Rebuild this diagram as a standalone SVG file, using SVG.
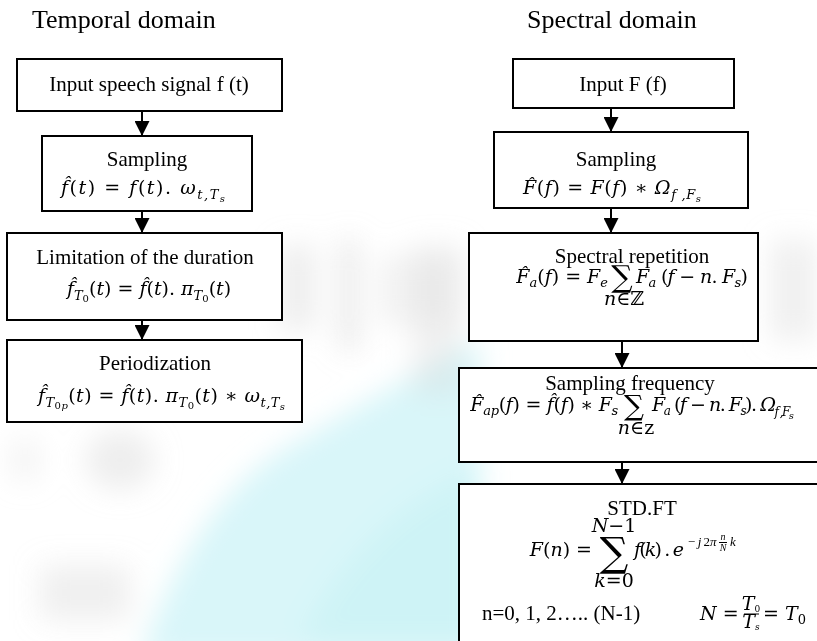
<svg xmlns="http://www.w3.org/2000/svg" width="817" height="641" viewBox="0 0 817 641">
<defs>
<style>
.t{font-family:"Liberation Serif","Times New Roman",serif;font-size:21px;fill:#000}
.h{font-size:26px}
.m{font-family:"DejaVu Serif",serif;font-style:italic;font-size:19px;fill:#000}
.li{font-family:"Liberation Serif",serif;font-style:italic;fill:#000}
.u{font-style:normal}
.s{font-size:13px}
.ss{font-size:10px}
.sum{font-family:"DejaVu Serif",serif;font-style:normal;fill:#000}
.box{fill:#fff;stroke:#000;stroke-width:2}
.c{stroke:#000;stroke-width:2;fill:none;marker-end:url(#ah)}
.fl{stroke:#000;stroke-width:1}
</style>
<marker id="ah" markerUnits="userSpaceOnUse" markerWidth="15" markerHeight="15" refX="15" refY="7.5" orient="auto" viewBox="0 0 15 15"><path d="M0,0 L15,7.5 L0,15 Z" fill="#000"/></marker>
<filter id="blur" x="-30%" y="-30%" width="160%" height="160%"><feGaussianBlur stdDeviation="14"/></filter>
</defs>
<rect width="817" height="641" fill="#fff"/>
<g id="watermark" filter="url(#blur)">
<path d="M140,660 C170,570 220,480 300,440 C360,405 420,370 480,340 L480,660 Z" fill="#d2f5f8" opacity="0.85"/>
<path d="M300,641 C340,560 400,500 480,470 L480,641 Z" fill="#c6f1f5" opacity="0.6"/>
<rect x="280" y="245" width="35" height="85" fill="#d6d6d6" opacity="0.45"/>
<rect x="340" y="240" width="18" height="110" fill="#cfcfcf" opacity="0.5"/>
<rect x="380" y="255" width="80" height="70" fill="#dedede" opacity="0.4"/>
<ellipse cx="120" cy="460" rx="35" ry="30" fill="#d4d4d4" opacity="0.4"/>
<rect x="40" y="565" width="90" height="55" fill="#d0d0d0" opacity="0.35"/>
<rect x="12" y="440" width="26" height="40" fill="#e0e0e0" opacity="0.4"/>
<rect x="770" y="240" width="47" height="100" fill="#dadada" opacity="0.4"/>
<rect x="412" y="245" width="50" height="150" fill="#d8d8d8" opacity="0.35"/>
</g>

<text class="t h" x="32" y="28">Temporal domain</text>
<text class="t h" x="527" y="28">Spectral domain</text>

<g id="connectors">
<line class="c" x1="142" y1="111" x2="142" y2="136"/>
<line class="c" x1="142" y1="211" x2="142" y2="233"/>
<line class="c" x1="142" y1="320" x2="142" y2="340"/>
<line class="c" x1="611" y1="108" x2="611" y2="132"/>
<line class="c" x1="611" y1="208" x2="611" y2="233"/>
<line class="c" x1="622" y1="341" x2="622" y2="368"/>
<line class="c" x1="622" y1="462" x2="622" y2="484"/>
</g>

<g id="input-signal">
<rect class="box" x="17" y="59" width="265" height="52"/>
<text class="t" x="149" y="91" text-anchor="middle">Input speech signal f (t)</text>
</g>

<g id="sampling-t">
<rect class="box" x="42" y="136" width="210" height="75"/>
<text class="t" x="147" y="166" text-anchor="middle">Sampling</text>
<text class="m" x="61" y="194" font-size="20" textLength="164" lengthAdjust="spacing">f̂<tspan class="u">(</tspan>t<tspan class="u">) = </tspan>f<tspan class="u">(</tspan>t<tspan class="u">). </tspan>ω<tspan class="s" dy="5">t,T</tspan><tspan class="ss" dy="3">s</tspan></text>
</g>

<g id="limitation">
<rect class="box" x="7" y="233" width="275" height="87"/>
<text class="t" x="145" y="264" text-anchor="middle">Limitation of the duration</text>
<text class="m" x="149" y="295" text-anchor="middle">f̂<tspan class="s" dy="5">T</tspan><tspan class="ss u" dy="2">0</tspan><tspan class="u" dy="-7">(</tspan>t<tspan class="u">) = </tspan>f̂<tspan class="u">(</tspan>t<tspan class="u">). </tspan>π<tspan class="s" dy="5">T</tspan><tspan class="ss u" dy="2">0</tspan><tspan class="u" dy="-7">(</tspan>t<tspan class="u">)</tspan></text>
</g>

<g id="periodization">
<rect class="box" x="7" y="340" width="295" height="82"/>
<text class="t" x="155" y="370" text-anchor="middle">Periodization</text>
<text class="m" x="38" y="402" textLength="247" lengthAdjust="spacing">f̂<tspan class="s" dy="5">T</tspan><tspan class="ss" dy="2"><tspan class="u">0</tspan>p</tspan><tspan class="u" dy="-7">(</tspan>t<tspan class="u">) = </tspan>f̂<tspan class="u">(</tspan>t<tspan class="u">). </tspan>π<tspan class="s" dy="5">T</tspan><tspan class="ss u" dy="2">0</tspan><tspan class="u" dy="-7">(</tspan>t<tspan class="u">) ∗ </tspan>ω<tspan class="s" dy="5">t,T</tspan><tspan class="ss" dy="3">s</tspan></text>
</g>

<g id="input-F">
<rect class="box" x="513" y="59" width="221" height="49"/>
<text class="t" x="623" y="91" text-anchor="middle">Input F (f)</text>
</g>

<g id="sampling-f">
<rect class="box" x="494" y="132" width="254" height="76"/>
<text class="t" x="616" y="166" text-anchor="middle">Sampling</text>
<text class="m" x="523" y="194" textLength="178" lengthAdjust="spacing">F̂<tspan class="u">(</tspan>f<tspan class="u">) = </tspan>F<tspan class="u">(</tspan>f<tspan class="u">) ∗ </tspan>Ω<tspan class="s" dy="5">f ,F</tspan><tspan class="ss" dy="3">s</tspan></text>
</g>

<g id="spectral-repetition">
<rect class="box" x="469" y="233" width="289" height="108"/>
<text class="t" x="632" y="263" text-anchor="middle">Spectral repetition</text>
<text class="m" x="608" y="283" text-anchor="end">F̂<tspan class="s" dy="4">a</tspan><tspan class="u" dy="-4">(</tspan>f<tspan class="u">) = </tspan>F<tspan class="s" dy="4">e</tspan></text>
<text class="sum" x="622" y="287" font-size="30" text-anchor="middle">∑</text>
<text class="m" x="624" y="305" font-size="10" text-anchor="middle">n<tspan class="u">∈ℤ</tspan></text>
<text class="m" x="636" y="283" font-size="18" textLength="112" lengthAdjust="spacing">F<tspan class="s" dy="4">a</tspan><tspan class="u" dy="-4"> (</tspan>f<tspan class="u"> − </tspan>n<tspan class="u">. </tspan>F<tspan class="s" dy="4">s</tspan><tspan class="u" dy="-4">)</tspan></text>
</g>

<g id="sampling-frequency">
<rect class="box" x="459" y="368" width="366" height="94"/>
<text class="t" x="630" y="390" text-anchor="middle">Sampling frequency</text>
<text class="m" x="470" y="411" font-size="15.5" textLength="148" lengthAdjust="spacing">F̂<tspan class="s" dy="4">ap</tspan><tspan class="u" dy="-4">(</tspan>f<tspan class="u">) = </tspan>f̂<tspan class="u">(</tspan>f<tspan class="u">) ∗ </tspan>F<tspan class="s" dy="4">s</tspan></text>
<text class="sum" x="634" y="415" font-size="28" text-anchor="middle">∑</text>
<text class="m" x="636" y="434" font-size="10" text-anchor="middle">n<tspan class="u">∈z</tspan></text>
<text class="m" x="652" y="411" font-size="14" textLength="142" lengthAdjust="spacing">F<tspan font-size="12" dy="4">a</tspan><tspan class="u" dy="-4"> (</tspan>f<tspan class="u"> − </tspan>n<tspan class="u">. </tspan>F<tspan font-size="12" dy="4">s</tspan><tspan class="u" dy="-4">). </tspan>Ω<tspan font-size="12" dy="5">f ,F</tspan><tspan class="ss" dy="3">s</tspan></text>
</g>

<g id="std-ft">
<rect class="box" x="459" y="484" width="366" height="170"/>
<text class="t" x="642" y="515" text-anchor="middle">STD.FT</text>
<text class="m" x="614" y="532" font-size="14" text-anchor="middle">N<tspan class="u">−1</tspan></text>
<text class="sum" x="614" y="566" font-size="40" text-anchor="middle">∑</text>
<text class="m" x="614" y="587" font-size="14" text-anchor="middle">k<tspan class="u">=0</tspan></text>
<text class="m" x="592" y="556" font-size="20" text-anchor="end">F<tspan class="u">(</tspan>n<tspan class="u">) =</tspan></text>
<text class="m" x="634" y="556" font-size="17.5" textLength="50" lengthAdjust="spacing">f<tspan class="u">(</tspan>k<tspan class="u">) . </tspan>e</text>
<text class="li" x="687" y="546" font-size="13">−<tspan dx="2">j</tspan><tspan class="u" dx="2">2</tspan>π</text>
<text class="li" x="723" y="540" font-size="10" text-anchor="middle">n</text>
<line class="fl" x1="719" y1="542.5" x2="727" y2="542.5" stroke-width="0.8"/>
<text class="li" x="723" y="551" font-size="10" text-anchor="middle">N</text>
<text class="li" x="730" y="546" font-size="13">k</text>
<text class="t" x="482" y="620">n=0, 1, 2….. (N-1)</text>
<text class="m" x="700" y="620" font-size="20">N<tspan class="u"> =</tspan></text>
<text class="m" x="751" y="610" font-size="12" text-anchor="middle">T<tspan class="u" font-size="9" dy="2">0</tspan></text>
<line class="fl" x1="744" y1="614" x2="759" y2="614"/>
<text class="m" x="751" y="628" font-size="12" text-anchor="middle">T<tspan font-size="9" dy="2">s</tspan></text>
<text class="m" x="763" y="620" font-size="20"><tspan class="u">= </tspan>T<tspan class="u" font-size="13" dy="4">0</tspan></text>
</g>
</svg>
